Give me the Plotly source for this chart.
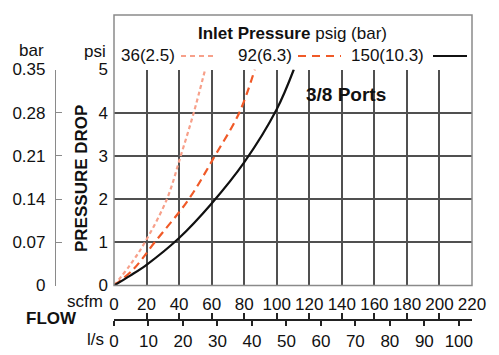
import plotly.graph_objects as go

# ---- data ----
flow_36 = [0, 10, 19, 32.5, 41, 49, 56]
drop_36 = [0, 0.48, 1, 2, 3, 4, 5]
flow_92 = [0, 12, 25, 46, 62, 77, 86.5]
drop_92 = [0, 0.38, 1, 2, 3, 4, 5]
flow_150 = [0, 10, 20, 40, 60, 80, 100, 110.5]
drop_150 = [0, 0.23, 0.48, 1.1, 1.9, 2.85, 4.08, 5]

scfm_ticks = list(range(0, 221, 20))
ls_ticks = list(range(0, 101, 10))
psi_ticks = [0, 1, 2, 3, 4, 5]
bar_ticks = [0, 0.07, 0.14, 0.21, 0.28, 0.35]
bar_labels = ["0", "0.07", "0.14", "0.21", "0.28", "0.35"]
series_labels = ["36(2.5)", "92(6.3)", "150(10.3)"]
SCFM_PER_LS = 2.119

# ---- geometry helpers (pixel -> paper) ----
W, H = 499, 355
ML, MR, MT, MB = 10, 27, 10, 10
PW, PH = W - ML - MR, H - MT - MB
def px(x): return (x - ML) / PW
def py(y): return (H - MB - y) / PH

PLOT_L, PLOT_R, PLOT_T, PLOT_B = 114, W - MR, 69.5, 285.5
FONT = "Liberation Sans, Arial, sans-serif"
GRID = "#505050"
FRAME = "#8a8a8a"

c36, c92, c150 = "#f7a08a", "#f05a28", "#111111"

fig = go.Figure()
fig.add_trace(go.Scatter(x=flow_36, y=drop_36, mode="lines", line=dict(color=c36, width=2.2, dash="4px,3px", shape="spline"), showlegend=False))
fig.add_trace(go.Scatter(x=flow_92, y=drop_92, mode="lines", line=dict(color=c92, width=2.2, dash="8px,5px", shape="spline"), showlegend=False))
fig.add_trace(go.Scatter(x=flow_150, y=drop_150, mode="lines", line=dict(color=c150, width=2.2, shape="spline"), showlegend=False))
# invisible traces to activate the extra axes
fig.add_trace(go.Scatter(x=[0], y=[0], xaxis="x2", yaxis="y2", mode="markers", marker=dict(opacity=0), showlegend=False, hoverinfo="skip"))
fig.add_trace(go.Scatter(x=[0], y=[0], xaxis="x3", yaxis="y", mode="markers", marker=dict(opacity=0), showlegend=False, hoverinfo="skip"))

tickfont = dict(family=FONT, size=17, color="#111")
xdom = [px(PLOT_L), 1]
ydom = [py(PLOT_B), py(PLOT_T)]

fig.update_layout(
    template="none",
    width=W, height=H,
    margin=dict(l=ML, r=MR, t=MT, b=MB, autoexpand=False),
    paper_bgcolor="white", plot_bgcolor="white",
    font=dict(family=FONT, size=17, color="#111"),
    showlegend=False,
    xaxis=dict(domain=xdom, range=[0, 220], tickvals=scfm_ticks, showgrid=True, gridcolor=GRID, gridwidth=1.5,
               zeroline=False, showline=False, ticks="", tickfont=tickfont, ticklabelstandoff=6,
               automargin=False, fixedrange=True),
    yaxis=dict(domain=ydom, range=[0, 5], tickvals=psi_ticks, showgrid=True, gridcolor=GRID, gridwidth=1.5,
               zeroline=False, showline=False, ticks="", tickfont=tickfont, ticklabelstandoff=5,
               automargin=False, fixedrange=True),
    yaxis2=dict(overlaying="y", anchor="free", position=px(55), side="left", range=[0, 0.35],
                tickvals=bar_ticks, ticktext=bar_labels, ticks="inside", ticklen=6, tickcolor=FRAME,
                showline=True, linecolor=FRAME, linewidth=1.2, showgrid=False, zeroline=False,
                tickfont=tickfont, ticklabelstandoff=6, automargin=False),
    xaxis2=dict(overlaying="x", anchor="free", position=py(320), side="bottom", range=[0, 220 / SCFM_PER_LS],
                tickvals=ls_ticks, ticks="outside", ticklen=5, tickwidth=1.5, tickcolor="#222",
                showline=True, linecolor="#222", linewidth=1.5, showgrid=False, zeroline=False,
                tickfont=tickfont, ticklabelstandoff=1, automargin=False),
    xaxis3=dict(overlaying="x", anchor="free", position=py(320), side="bottom", range=[0, 220],
                tickvals=scfm_ticks, ticks="inside", ticklen=7, tickwidth=1.5, tickcolor="#222",
                showline=False, showgrid=False, zeroline=False, showticklabels=False, automargin=False),
)

shapes = [
    dict(type="rect", xref="paper", yref="paper", x0=px(PLOT_L), x1=px(PLOT_R), y0=py(PLOT_B), y1=py(15),
         line=dict(color=FRAME, width=1.5), layer="above"),
    dict(type="line", xref="paper", yref="paper", x0=px(181), x1=px(213), y0=py(56), y1=py(56),
         line=dict(color=c36, width=2.2, dash="5px,4px")),
    dict(type="line", xref="paper", yref="paper", x0=px(298), x1=px(341), y0=py(56), y1=py(56),
         line=dict(color=c92, width=2.2, dash="8px,6px")),
    dict(type="line", xref="paper", yref="paper", x0=px(433), x1=px(467), y0=py(56), y1=py(56),
         line=dict(color=c150, width=2.2)),
]
fig.update_layout(shapes=shapes)

def ann(text, x, y, xanchor="center", size=17, angle=0):
    fig.add_annotation(text=text, xref="paper", yref="paper", x=px(x), y=py(y), xanchor=xanchor,
                       yanchor="middle", showarrow=False, textangle=angle,
                       font=dict(family=FONT, size=size, color="#111"))

ann("<b>Inlet Pressure</b> psig (bar)", 292.5, 33)
ann(series_labels[0], 119, 56, xanchor="left")
ann(series_labels[1], 294, 56, xanchor="right")
ann(series_labels[2], 426, 56, xanchor="right")
ann("<b>3/8 Ports</b>", 346, 95, size=19)
ann("<b>PRESSURE DROP</b>", 81.5, 178.5, angle=-90)
ann("bar", 31, 50)
ann("psi", 108, 51, xanchor="right")
ann("scfm", 105, 301, xanchor="right")
ann("<b>FLOW</b>", 51, 318)
ann("l/s", 106, 339, xanchor="right")

fig.write_html("out.html", config={"displayModeBar": False},
               post_script="document.body.style.margin='0';")
